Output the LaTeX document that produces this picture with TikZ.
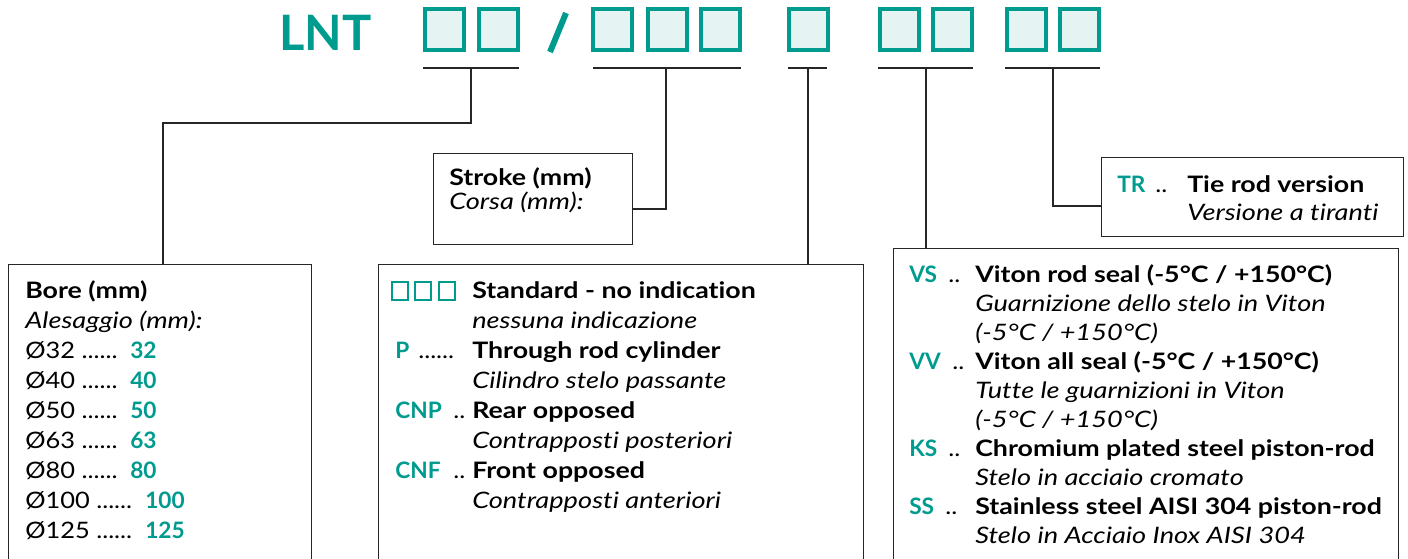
\documentclass[tikz,border=0pt]{standalone}
\usepackage{fontspec}
\setmainfont{Lato}[Ligatures={NoCommon},UprightFeatures={FakeStretch=1.12},BoldFeatures={FakeStretch=1.18},ItalicFeatures={FakeStretch=1.2},BoldItalicFeatures={FakeStretch=1.18}]
\newfontfamily\titlefont{Lato}[Ligatures={NoCommon}]
\definecolor{teal1}{RGB}{0,155,143}
\definecolor{tealfill}{RGB}{229,244,242}
\begin{document}
\begin{tikzpicture}[x=0.75pt,y=-0.75pt,
 txt/.style={anchor=base west,inner sep=0pt,font=\fontsize{17}{20}\selectfont},
 bd/.style={anchor=base west,inner sep=0pt,font=\fontsize{17}{20}\selectfont\bfseries},
 it/.style={anchor=base west,inner sep=0pt,font=\fontsize{17}{20}\selectfont\itshape},
 code/.style={anchor=base west,inner sep=0pt,font=\titlefont\fontsize{17}{20}\selectfont\bfseries,text=teal1},
 frame/.style={draw=black!85,line width=1.1pt,anchor=north west,inner sep=0pt,fill=white},
 digit/.style={draw=teal1,fill=tealfill,line width=3pt,minimum width=29.25pt,minimum height=30.75pt,inner sep=0pt},
 mini/.style={draw=teal1,line width=1.5pt,minimum width=12pt,minimum height=13.5pt,inner sep=0pt},
 conn/.style={draw=black!85,line width=1pt}]
\useasboundingbox (0,0) rectangle (1408,558);
\clip (0,0) rectangle (1408,558);
% title
\node[anchor=base west,inner sep=0pt,text=teal1,font=\titlefont\fontsize{36.6}{40}\selectfont\bfseries] (lnt) at (279,50) {LNT};
\node[digit] (b1) at (444.5,29.5) {};
\node[digit] (b2) at (498,29.5) {};
\coordinate (slt) at (566,13);
\coordinate (slb) at (550,52);
\draw[teal1,line width=4.5pt] (slt) -- (slb);
\node[digit] (b3) at (612.5,29.5) {};
\node[digit] (b4) at (667,29.5) {};
\node[digit] (b5) at (720,29.5) {};
\node[digit] (b6) at (808,29.5) {};
\node[digit] (b7) at (899,29.5) {};
\node[digit] (b8) at (952.5,29.5) {};
\node[digit] (b9) at (1026,29.5) {};
\node[digit] (b10) at (1079.5,29.5) {};
% underlines
\coordinate (u1a) at (423,68); \coordinate (u1b) at (519,68); \coordinate (t1) at (471,68);
\coordinate (u2a) at (593,68); \coordinate (u2b) at (741,68); \coordinate (t2) at (666,68);
\coordinate (u3a) at (788,68); \coordinate (u3b) at (827,68); \coordinate (t3) at (808,68);
\coordinate (u4a) at (878,68); \coordinate (u4b) at (973,68); \coordinate (t4) at (926,68);
\coordinate (u5a) at (1005,68); \coordinate (u5b) at (1100,68); \coordinate (t5) at (1053,68);
\draw[conn] (u1a) -- (u1b);
\draw[conn] (u2a) -- (u2b);
\draw[conn] (u3a) -- (u3b);
\draw[conn] (u4a) -- (u4b);
\draw[conn] (u5a) -- (u5b);
% frames
\node[frame,minimum width=227.25pt,minimum height=229.5pt] (bore) at (8,264) {};
\node[frame,minimum width=149.25pt,minimum height=68.25pt] (stroke) at (433,153) {};
\node[frame,minimum width=363.75pt,minimum height=229.5pt] (mid) at (378,264) {};
\node[frame,minimum width=378.75pt,minimum height=241.5pt] (right) at (893,248) {};
\node[frame,minimum width=226.5pt,minimum height=59.25pt] (tr) at (1101,157) {};
% connectors
\coordinate (j1) at (163,123);
\coordinate (j2) at (666,209);
\coordinate (j5) at (1053,206);
\draw[conn] (t1) |- (j1) -- (bore.north -| j1);
\draw[conn] (t2) -- (j2) -- (stroke.east |- j2);
\draw[conn] (t3) -- (mid.north -| t3);
\draw[conn] (t4) -- (right.north -| t4);
\draw[conn] (t5) -- (j5) -- (tr.west |- j5);
% bore box
\node[bd] (bore1) at (25,298) {Bore (mm)};
\node[it] (bore2) at (25,328) {Alesaggio (mm):};
\node[txt] (d1) at (25,358) {Ø32 ......}; \node[code] (c1) at (130,358) {32};
\node[txt] (d2) at (25,388) {Ø40 ......}; \node[code] (c2) at (130,388) {40};
\node[txt] (d3) at (25,418) {Ø50 ......}; \node[code] (c3) at (130,418) {50};
\node[txt] (d4) at (25,448) {Ø63 ......}; \node[code] (c4) at (130,448) {63};
\node[txt] (d5) at (25,478) {Ø80 ......}; \node[code] (c5) at (130,478) {80};
\node[txt] (d6) at (25,508) {Ø100 ......}; \node[code] (c6) at (145,508) {100};
\node[txt] (d7) at (25,538) {Ø125 ......}; \node[code] (c7) at (145,538) {125};
% stroke box
\node[bd] (s1) at (449,185) {Stroke (mm)};
\node[it] (s2) at (449,209) {Corsa (mm):};
% middle box
\node[mini] (m1) at (399.5,291) {};
\node[mini] (m2) at (422.5,291) {};
\node[mini] (m3) at (446.5,291) {};
\node[bd] (e1) at (472,298) {Standard - no indication};
\node[it] (e1i) at (472,328) {nessuna indicazione};
\node[code] (p) at (395,358) {P}; \node[txt] (pd) at (418,358) {......};
\node[bd] (e2) at (472,358) {Through rod cylinder};
\node[it] (e2i) at (472,388) {Cilindro stelo passante};
\node[code] (cnp) at (395,418) {CNP}; \node[txt] (cnpd) at (453,418) {..};
\node[bd] (e3) at (472,418) {Rear opposed};
\node[it] (e3i) at (472,448) {Contrapposti posteriori};
\node[code] (cnf) at (395,478) {CNF}; \node[txt] (cnfd) at (453,478) {..};
\node[bd] (e4) at (472,478) {Front opposed};
\node[it] (e4i) at (472,508) {Contrapposti anteriori};
% right box
\node[code] (vs) at (909,282) {VS}; \node[txt] (vsd) at (948,282) {..};
\node[bd] (r1) at (975,282) {Viton rod seal (-5°C / +150°C)};
\node[it] (r1i) at (975,311) {Guarnizione dello stelo in Viton};
\node[it] (r1j) at (975,340) {(-5°C / +150°C)};
\node[code] (vv) at (909,369) {VV}; \node[txt] (vvd) at (952,369) {..};
\node[bd] (r2) at (975,369) {Viton all seal (-5°C / +150°C)};
\node[it] (r2i) at (975,398) {Tutte le guarnizioni in Viton};
\node[it] (r2j) at (975,427) {(-5°C / +150°C)};
\node[code] (ks) at (909,456) {KS}; \node[txt] (ksd) at (948,456) {..};
\node[bd] (r3) at (975,456) {Chromium plated steel piston-rod};
\node[it] (r3i) at (975,485) {Stelo in acciaio cromato};
\node[code] (ss) at (909,514) {SS}; \node[txt] (ssd) at (945,514) {..};
\node[bd] (r4) at (975,514) {Stainless steel AISI 304 piston-rod};
\node[it] (r4i) at (975,543) {Stelo in Acciaio Inox AISI 304};
% TR box
\node[code] (trc) at (1117,192) {TR}; \node[txt] (trd) at (1155,192) {..};
\node[bd] (tr1) at (1187,192) {Tie rod version};
\node[it] (tr2) at (1187,220) {Versione a tiranti};
\end{tikzpicture}
\end{document}
